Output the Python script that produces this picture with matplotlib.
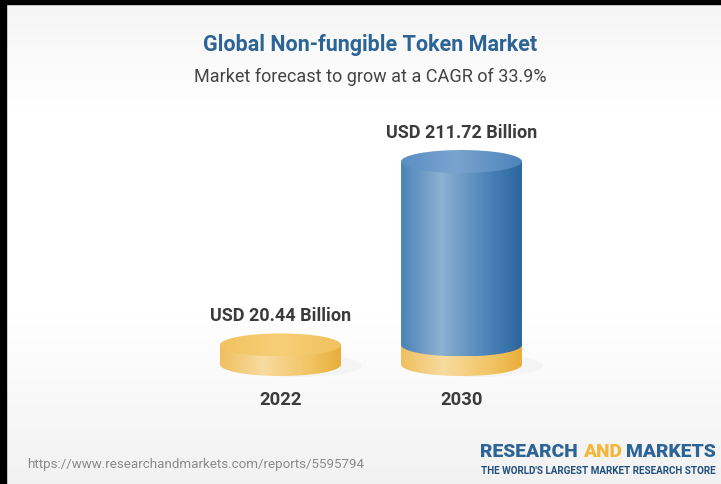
import numpy as np
import matplotlib.pyplot as plt
from matplotlib.colors import LinearSegmentedColormap
from matplotlib.patches import Ellipse, Rectangle
from matplotlib.path import Path
from matplotlib.patches import PathPatch

plt.rcParams['font.family'] = ['Roboto', 'DejaVu Sans']

title = "Global Non-fungible Token Market"
subtitle = "Market forecast to grow at a CAGR of 33.9%"
years = ["2022", "2030"]
values = [20.44, 211.72]
value_labels = ["USD 20.44 Billion", "USD 211.72 Billion"]
source = "https://www.researchandmarkets.com/reports/5595794"

W, H = 721, 485
fig = plt.figure(figsize=(W / 100, H / 100), dpi=100)

# background axes in pixel coords
bg = fig.add_axes([0, 0, 1, 1])
bg.set_xlim(0, W)
bg.set_ylim(H, 0)
bg.axis('off')
grad = np.concatenate([np.linspace(0.955, 1.0, 120), np.ones(180), np.linspace(1.0, 0.945, 185)])
bg.imshow(np.tile(grad[:, None], (1, 2)), cmap='gray', vmin=0, vmax=1,
          extent=[0, W, H, 0], aspect='auto', zorder=0)
bg.add_patch(Rectangle((0, 0), W, 5, color='black', zorder=1))
bg.add_patch(Rectangle((0, 0), 6, H, color='black', zorder=1))

bg.text(370, 45, title, ha='center', va='center', fontsize=15.5,
        fontweight='bold', color='#2c6495')
bg.text(370, 77, subtitle, ha='center', va='center', fontsize=13, color='#444444')
bg.text(27, 465, source, ha='left', va='center', fontsize=9.6, color='#8a8a8a')

# logo, right aligned
fig.canvas.draw()
r = fig.canvas.get_renderer()
x_right = 716
parts = [("MARKETS", '#2c6495'), ("AND ", '#f2b83c'), ("RESEARCH ", '#2c6495')]
for txt, col in parts:
    t = bg.text(x_right, 452, txt, ha='right', va='center', fontsize=13.9,
                fontweight='black', color=col)
    bb = t.get_window_extent(r)
    x_right -= bb.width
bg.text(716, 471, "THE WORLD'S LARGEST MARKET RESEARCH STORE", ha='right', va='center',
        fontsize=7.1, fontweight='bold', color='#1f4f7c')

# chart axes
ax = fig.add_axes([190 / W, 1 - 390 / H, 362 / W, 250 / H])
ax.axis('off')
ax.patch.set_alpha(0)

blue_side = LinearSegmentedColormap.from_list('bs', [(0, '#4b82b8'), (0.33, '#8db1d1'), (0.7, '#4e85ba'), (1, '#2b669e')])
blue_top = LinearSegmentedColormap.from_list('bt', [(0, '#5a8ec2'), (0.45, '#7aa4cf'), (1, '#4c83bb')])
yel_side = LinearSegmentedColormap.from_list('ys', [(0, '#efbf5e'), (0.35, '#f8dba0'), (0.75, '#f2c463'), (1, '#e8ad3a')])
yel_top = LinearSegmentedColormap.from_list('yt', [(0, '#f2c35f'), (0.5, '#f6cf78'), (1, '#f1c15c')])

bw = 0.668
eh = 24.0
gx = np.linspace(0, 1, 256)[None, :]


def body(x, y0, y1, cmap):
    th = np.linspace(np.pi, 2 * np.pi, 80)
    xs = x + bw / 2 * np.cos(th)
    ys = y0 + eh / 2 * np.sin(th)
    verts = list(zip(xs, ys)) + [(x + bw / 2, y1), (x - bw / 2, y1), (xs[0], ys[0])]
    codes = [Path.MOVETO] + [Path.LINETO] * (len(verts) - 2) + [Path.CLOSEPOLY]
    p = PathPatch(Path(verts, codes), facecolor='none', edgecolor='none')
    ax.add_patch(p)
    im = ax.imshow(gx, cmap=cmap, extent=[x - bw / 2, x + bw / 2, y0 - eh / 2, y1],
                   aspect='auto', zorder=2)
    im.set_clip_path(p)


def top(x, y, cmap):
    e = Ellipse((x, y), bw, eh, facecolor='none', edgecolor='none')
    ax.add_patch(e)
    im = ax.imshow(gx, cmap=cmap, extent=[x - bw / 2, x + bw / 2, y - eh / 2, y + eh / 2],
                   aspect='auto', zorder=3)
    im.set_clip_path(e)


# soft shadows
for i in range(2):
    ax.add_patch(Ellipse((i + 0.1, -1), bw * 1.05, eh * 1.0, facecolor='#000000',
                         alpha=0.025, edgecolor='none', zorder=1))

# 2022 disk
body(0, 0, values[0], yel_side)
top(0, values[0], yel_top)
# 2030: yellow base (2022 value) + blue rest
body(1, 0, values[0], yel_side)
body(1, values[0], values[1], blue_side)
top(1, values[1], blue_top)

for i, (v, lab) in enumerate(zip(values, value_labels)):
    ax.text(i, v + eh / 2 + 19, lab, ha='center', va='center', fontsize=13,
            fontweight='bold', color='#3b3b3b')
    ax.text(i, -36, years[i], ha='center', va='center', fontsize=13.2,
            fontweight='bold', color='#3b3b3b')

ax.set_xlim(-0.5, 1.5)
ax.set_ylim(-25.55, 235.2)

fig.savefig('out.png', dpi=100)
